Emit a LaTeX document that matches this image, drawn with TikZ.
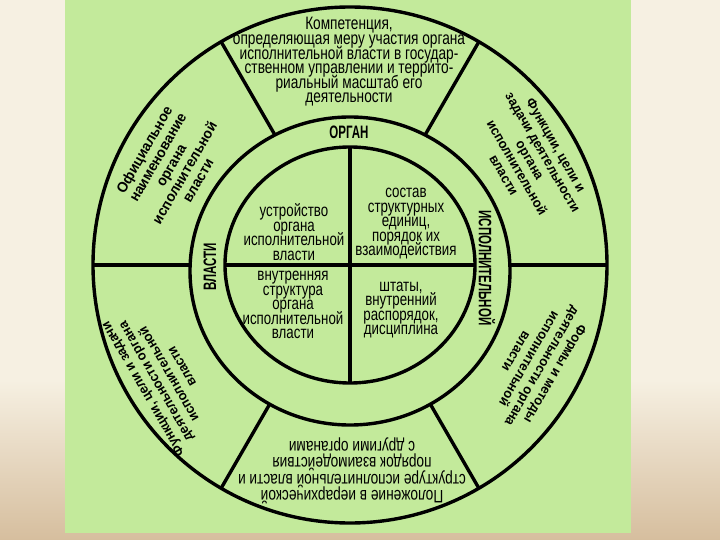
\documentclass[tikz,border=0pt]{standalone}
\usepackage{fontspec}
\setmainfont{Liberation Sans}
\newfontfamily\cond{Liberation Sans}[FakeStretch=0.76]
\newfontfamily\ringf{Liberation Sans}[FakeStretch=0.64]
\newfontfamily\arl{Liberation Sans}[FakeStretch=0.95]
\definecolor{bgcream}{RGB}{246,240,226}
\definecolor{bgtan}{RGB}{214,190,158}
\definecolor{leaf}{RGB}{195,234,155}
\tikzset{
  rim/.style={draw=black, line width=3.4pt},
  quad/.style={font={\cond\fontsize{17.5}{14.5}\selectfont\lineskiplimit=-50pt}, align=center, inner sep=0pt},
  toptext/.style={font={\cond\fontsize{18}{14.6}\selectfont\lineskiplimit=-50pt}, align=center, inner sep=0pt},
  bottext/.style={font={\cond\fontsize{18}{16.5}\selectfont\lineskiplimit=-50pt}, align=center, inner sep=0pt},
  ringlab/.style={font={\ringf\bfseries\fontsize{18}{18}\selectfont}, inner sep=0pt},
  sidelab/.style={font={\arl\bfseries\fontsize{13.5}{15}\selectfont\lineskiplimit=-50pt}, align=center, inner sep=0pt},
  sidelabtl/.style={font={\arl\bfseries\fontsize{14.5}{15.5}\selectfont\lineskiplimit=-50pt}, align=center, inner sep=0pt},
}
\begin{document}
\begin{tikzpicture}[x=1pt,y=-1pt]
\useasboundingbox (0,0) rectangle (720,540);
% background
\fill[bgcream] (0,0) rectangle (720,380);
\shade[top color=bgcream, bottom color=bgtan] (0,380) rectangle (720,540);
\fill[leaf] (65,0) rectangle (631,533);

% centre and outer points
\coordinate (C) at (350,265);
\coordinate (o0) at (607,265);
\coordinate (o60) at (478.5,42.4);
\coordinate (o120) at (221.5,42.4);
\coordinate (o180) at (93,265);
\coordinate (o240) at (221.5,487.6);
\coordinate (o300) at (478.5,487.6);

% outer circle
\draw[rim] (C) ellipse [x radius=257pt, y radius=258pt];
% radial dividers
\foreach \p in {o0,o60,o120,o180,o240,o300}
  \draw[rim] (C) -- (\p);
% middle ring
\filldraw[rim, fill=leaf] (350,271) ellipse [x radius=160pt, y radius=154pt];
% inner circle
\draw[rim] (C) ellipse [x radius=125pt, y radius=118pt];
\coordinate (it) at (350,147);
\coordinate (ib) at (350,383);
\coordinate (il) at (225,265);
\coordinate (ir) at (475,265);
\draw[rim] (it) -- (ib);
\draw[rim] (il) -- (ir);

% ring labels
\node[ringlab] (organ) at (349,132) {ОРГАН};
\node[ringlab, rotate=90] (vlasti) at (210,267) {ВЛАСТИ};
\node[ringlab, rotate=-90] (ispoln) at (487,268) {ИСПОЛНИТЕЛЬНОЙ};

% inner quadrants
\node[quad] (q1) at (294,232) {устройство\\органа\\исполнительной\\власти};
\node[quad] (q2) at (406,224) {состав\\структурных\\единиц,\\порядок их\\взаимодействия};
\node[quad] (q3) at (293,305) {внутренняя\\структура\\органа\\исполнительной\\власти};
\node[quad] (q4) at (401,310) {штаты,\\внутренний\\распорядок,\\дисциплина};

% outer sectors
\node[toptext] (s1) at (349,62) {Компетенция,\\определяющая меру участия органа\\исполнительной власти в государ-\\ственном управлении и террито-\\риальный масштаб его\\деятельности};
\node[sidelabtl, rotate=60] (s2) at (171,165) {Официальное\\наименование\\органа\\исполнительной\\власти};
\node[sidelab, rotate=-60] (s3) at (530,160) {Функции, цели и\\задачи деятельности\\органа\\исполнительной\\власти};
\node[sidelab, rotate=120] (s4) at (162,378) {Функции, цели и задачи\\деятельности органа\\исполнительной\\власти};
\node[sidelab, rotate=-120] (s5) at (536,363) {Формы и методы\\деятельности органа\\исполнительной\\власти};
\node[bottext, rotate=180] (s6) at (352,471) {Положение в иерархической\\структуре исполнительной власти и\\порядок взаимодействия\\с другими органами};
\end{tikzpicture}
\end{document}
